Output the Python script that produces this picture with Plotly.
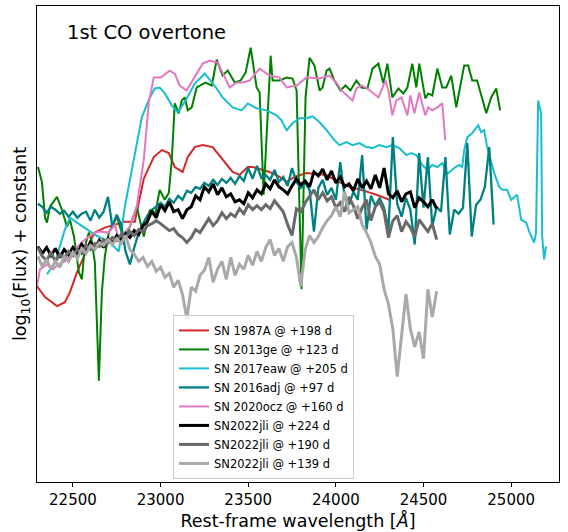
import plotly.graph_objects as go

# ---------------- data (wavelength in Angstrom, log10 flux + arbitrary offset) ----------------
red_wl = [22295, 22341, 22409, 22454, 22483, 22523, 22563, 22597, 22625, 22682, 22739, 22796, 22853,
          22904, 22961, 23007, 23047, 23081, 23126, 23155, 23195, 23240, 23297, 23354, 23411, 23451,
          23497, 23525, 23576, 23622, 23679, 23719, 23764, 23833, 23947, 23992, 24078, 24163, 24248, 24305]
red_fl = [1.97, 1.86, 1.77, 1.81, 1.91, 2.11, 2.27, 2.42, 2.51, 2.56, 2.59, 2.62, 2.62,
          3.05, 3.27, 3.34, 3.31, 3.17, 3.12, 3.27, 3.37, 3.39, 3.37, 3.24, 3.12, 3.09,
          3.17, 3.17, 3.14, 3.12, 3.07, 3.02, 3.07, 3.11, 3.09, 3.04, 2.97, 2.93, 2.88, 2.84]

green_wl = [22301, 22323, 22341, 22352, 22369, 22409, 22437, 22466, 22483, 22506, 22534, 22551, 22568,
            22591, 22608, 22625, 22648, 22665, 22682, 22705, 22751, 22790, 22825, 22864, 22904, 22939,
            22967, 22995, 23024, 23047, 23064, 23081, 23104, 23121, 23138, 23155, 23178, 23206, 23257,
            23292, 23320, 23354, 23383, 23423, 23457, 23485, 23514, 23548, 23565, 23588, 23628, 23639,
            23679, 23719, 23753, 23776, 23804, 23827, 23850, 23878, 23907, 23924, 23947, 23964, 23992,
            24026, 24055, 24083, 24117, 24146, 24180, 24209, 24243, 24271, 24294, 24322, 24357, 24385,
            24408, 24436, 24459, 24476, 24510, 24527, 24550, 24579, 24607, 24630, 24658, 24687, 24732,
            24755, 24778, 24806, 24858, 24886, 24915, 24937]
green_fl = [3.17, 3.02, 2.66, 2.61, 2.77, 2.87, 2.74, 2.57, 2.64, 2.47, 2.11, 2.04, 2.37,
            2.51, 2.42, 2.21, 1.02, 1.91, 2.27, 2.51, 2.67, 2.44, 2.57, 2.77, 2.47, 2.74,
            2.67, 2.94, 2.84, 2.91, 3.24, 3.81, 3.71, 3.84, 3.87, 3.74, 3.77, 3.97, 4.02,
            3.99, 4.25, 4.09, 4.14, 4.02, 4.04, 4.12, 4.37, 3.97, 3.92, 2.89, 4.29, 4.04,
            4.04, 4.07, 4.06, 3.94, 1.94, 3.87, 4.27, 4.19, 3.94, 3.97, 4.14, 4.16, 4.04,
            3.94, 3.99, 3.94, 4.04, 3.97, 3.96, 4.16, 4.21, 4.01, 4.21, 3.87, 3.96, 3.91,
            3.97, 4.21, 3.97, 4.21, 3.86, 3.91, 3.89, 4.16, 3.97, 3.97, 4.09, 3.77, 4.19,
            4.19, 4.04, 4.04, 3.71, 3.87, 3.96, 3.74]

cyan_wl = [22352, 22398, 22454, 22483, 22540, 22625, 22711, 22762, 22796, 22847, 22893, 22939, 22967,
           22995, 23024, 23064, 23098, 23121, 23149, 23195, 23252, 23280, 23320, 23354, 23411, 23462,
           23497, 23548, 23605, 23662, 23690, 23719, 23753, 23793, 23833, 23867, 23907, 23947, 23992,
           24021, 24060, 24095, 24134, 24174, 24209, 24248, 24288, 24322, 24362, 24402, 24431, 24459,
           24493, 24522, 24550, 24579, 24607, 24636, 24675, 24704, 24721, 24732, 24750, 24778, 24801,
           24812, 24829, 24846, 24863, 24886, 24903, 24932, 24949, 24977, 25000, 25034, 25057, 25086,
           25103, 25131, 25142, 25154, 25171, 25177, 25188, 25199]
cyan_fl = [2.09, 2.21, 2.54, 2.66, 2.59, 2.49, 2.41, 2.32, 2.77, 3.24, 3.67, 3.87, 3.96,
           3.97, 3.91, 3.79, 3.72, 3.78, 3.86, 4.01, 4.11, 4.05, 3.96, 3.87, 3.77, 3.74,
           3.81, 3.76, 3.74, 3.69, 3.64, 3.54, 3.61, 3.66, 3.66, 3.68, 3.62, 3.54, 3.44,
           3.39, 3.42, 3.39, 3.41, 3.37, 3.36, 3.39, 3.37, 3.39, 3.36, 3.29, 3.31, 3.29,
           3.19, 3.14, 3.19, 3.17, 3.21, 3.10, 3.16, 3.19, 3.17, 3.34, 3.47, 3.51, 3.57,
           3.59, 3.52, 3.54, 3.37, 3.21, 3.11, 2.97, 2.94, 2.94, 2.84, 2.89, 2.64, 2.61,
           2.52, 2.41, 2.51, 3.84, 3.71, 2.47, 2.24, 2.37]

teal_wl = list(range(22300, 24901, 25))
teal_fl = [2.80, 2.77, 2.71, 2.77, 2.74, 2.70, 2.73, 2.67, 2.72, 2.66, 2.70, 2.72, 2.63, 2.74, 2.66, 2.72,
           2.87, 2.57, 2.69, 2.59, 2.32, 2.19, 2.36, 2.51, 2.60, 2.68, 2.74, 2.77, 2.81, 2.77, 2.85, 2.81,
           2.88, 2.84, 2.93, 2.91, 2.97, 2.95, 3.01, 2.98, 3.04, 2.99, 3.05, 3.01, 3.06, 3.00, 3.08, 3.03,
           3.16, 3.05, 3.18, 3.06, 3.09, 3.04, 3.14, 3.02, 3.07, 2.98, 3.16, 3.02, 2.96, 3.01, 2.94, 2.52,
           2.96, 3.04, 2.89, 2.96, 2.84, 3.22, 2.86, 2.79, 2.92, 2.84, 3.29, 2.54, 2.88, 2.78, 2.86, 2.76,
           2.54, 3.47, 2.80, 2.67, 2.86, 2.74, 2.39, 3.31, 2.76, 3.27, 2.57, 2.77, 2.72, 3.27, 2.49, 2.74,
           2.70, 2.76, 3.41, 2.47, 2.79, 2.84, 2.97, 3.37, 2.59]

pink_wl = [22295, 22312, 22352, 22386, 22415, 22454, 22511, 22568, 22625, 22654, 22705, 22739, 22762,
           22825, 22864, 22904, 22933, 22961, 23001, 23052, 23081, 23109, 23149, 23206, 23240, 23280,
           23326, 23354, 23394, 23434, 23468, 23508, 23565, 23622, 23679, 23719, 23776, 23833, 23907,
           23964, 24003, 24032, 24066, 24095, 24117, 24146, 24180, 24209, 24243, 24283, 24300, 24322,
           24345, 24374, 24408, 24425, 24448, 24476, 24510, 24527, 24550, 24579, 24607, 24624]
pink_fl = [1.97, 2.14, 2.19, 2.14, 2.19, 2.22, 2.34, 2.44, 2.51, 2.52, 2.51, 2.59, 2.44,
           2.57, 2.77, 3.24, 3.82, 4.07, 4.07, 4.14, 4.11, 3.99, 3.94, 4.11, 4.21, 4.24,
           4.22, 4.12, 3.97, 4.02, 4.02, 4.04, 4.16, 4.09, 4.07, 3.97, 3.99, 4.07, 4.06,
           4.09, 4.02, 3.94, 3.89, 3.84, 3.96, 3.99, 3.96, 3.92, 3.87, 4.04, 3.94, 3.69,
           3.84, 3.87, 3.69, 3.89, 3.71, 3.92, 3.69, 3.77, 3.74, 3.77, 3.81, 3.44]

jli_wl = list(range(22300, 24576, 25))
jli224_fl = [2.37, 2.30, 2.36, 2.28, 2.35, 2.26, 2.34, 2.29, 2.36, 2.30,
             2.39, 2.33, 2.41, 2.35, 2.43, 2.36, 2.45, 2.40, 2.48, 2.43,
             2.50, 2.46, 2.53, 2.49, 2.58, 2.62, 2.73, 2.66, 2.79, 2.73,
             2.82, 2.72, 2.74, 2.65, 2.74, 2.77, 2.88, 2.84, 2.97, 2.92,
             3.00, 2.89, 2.96, 2.87, 2.90, 2.82, 2.84, 2.80, 2.91, 2.86,
             2.94, 2.90, 3.00, 2.95, 3.04, 2.97, 2.94, 2.90, 2.98, 3.05,
             2.99, 3.03, 2.97, 3.12, 3.08, 3.15, 3.04, 3.13, 3.01, 3.07,
             2.97, 3.00, 2.93, 3.05, 2.96, 3.03, 2.95, 3.09, 2.96, 3.16,
             2.90, 2.86, 2.93, 2.82, 2.90, 2.92, 2.76, 2.86, 2.82, 2.77,
             2.84, 2.75]
jli190_fl = [2.36, 2.27, 2.23, 2.31, 2.22, 2.29, 2.25, 2.32, 2.28, 2.34,
             2.30, 2.38, 2.34, 2.40, 2.37, 2.44, 2.41, 2.46, 2.43, 2.49,
             2.46, 2.52, 2.48, 2.54, 2.52, 2.58, 2.60, 2.63, 2.60, 2.56,
             2.53, 2.55, 2.49, 2.46, 2.41, 2.46, 2.54, 2.51, 2.58, 2.65,
             2.58, 2.63, 2.71, 2.65, 2.70, 2.67, 2.75, 2.70, 2.79, 2.74,
             2.78, 2.74, 2.79, 2.75, 2.83, 2.78, 2.72, 2.59, 2.48, 2.75,
             2.72, 2.81, 2.88, 2.94, 2.84, 2.91, 2.83, 2.87, 2.76, 2.81,
             2.72, 2.87, 2.78, 2.65, 2.76, 2.84, 2.63, 2.77, 2.82, 2.72,
             2.46, 2.63, 2.68, 2.52, 2.62, 2.56, 2.47, 2.64, 2.58, 2.52,
             2.60, 2.44]
jli139_fl = [2.27, 2.17, 2.24, 2.14, 2.22, 2.16, 2.27, 2.22, 2.31, 2.25,
             2.35, 2.30, 2.38, 2.34, 2.41, 2.38, 2.44, 2.39, 2.45, 2.40,
             2.48, 2.34, 2.29, 2.22, 2.26, 2.17, 2.22, 2.12, 2.16, 2.06,
             2.10, 1.96, 2.03, 1.89, 1.64, 1.96, 1.92, 2.08, 2.13, 2.26,
             2.01, 2.14, 2.22, 2.04, 2.26, 2.08, 2.19, 2.14, 2.28, 2.18,
             2.32, 2.22, 2.36, 2.44, 2.28, 2.35, 2.22, 2.37, 2.41, 2.26,
             1.97, 2.34, 2.48, 2.41, 2.47, 2.56, 2.63, 2.68, 2.77, 2.67,
             2.92, 2.71, 2.74, 2.77, 2.59, 2.51, 2.41, 2.27, 2.19, 1.94,
             1.79, 1.54, 1.06, 1.49, 1.89, 1.54, 1.36, 1.51, 1.24, 1.94,
             1.66, 1.92]

xticks = [22500, 23000, 23500, 24000, 24500, 25000]
xtick_labels = ["22500", "23000", "23500", "24000", "24500", "25000"]

series = [
    ("SN 1987A @ +198 d", red_wl, red_fl, "#d62728", 2),
    ("SN 2013ge @ +123 d", green_wl, green_fl, "#008000", 2),
    ("SN 2017eaw @ +205 d", cyan_wl, cyan_fl, "#17becf", 2),
    ("SN 2016adj @ +97 d", teal_wl, teal_fl, "#008080", 2.3),
    ("SN 2020ocz @ +160 d", pink_wl, pink_fl, "#e377c2", 2),
    ("SN2022jli @ +224 d", jli_wl, jli224_fl, "#000000", 3),
    ("SN2022jli @ +190 d", jli_wl, jli190_fl, "#696969", 3),
    ("SN2022jli @ +139 d", jli_wl, jli139_fl, "#a9a9a9", 3),
]

FONT = "DejaVu Sans"
fig = go.Figure()
for name, wl, fl, col, lw in series:
    fig.add_trace(go.Scatter(x=wl, y=fl, mode="lines", name=name,
                             line=dict(color=col, width=lw)))

fig.update_layout(
    width=568, height=532,
    margin=dict(l=37, r=9, t=5, b=48),
    plot_bgcolor="white", paper_bgcolor="white",
    font=dict(family=FONT, color="black"),
    showlegend=True,
    legend=dict(x=0.2605, y=0.351, xanchor="left", yanchor="top",
                bgcolor="rgba(255,255,255,0.8)", bordercolor="#cccccc", borderwidth=1,
                font=dict(size=11.5, family=FONT), tracegroupgap=0),
    annotations=[dict(text="1st CO overtone", xref="paper", yref="paper", x=0.054, y=0.944,
                      xanchor="left", yanchor="middle", showarrow=False,
                      font=dict(size=19.5, family=FONT))],
)
fig.update_xaxes(range=[22295, 25273], tickvals=xticks, ticktext=xtick_labels, ticks="outside", ticklen=4,
                 tickcolor="black", showline=True, mirror=True, linecolor="black", linewidth=1,
                 showgrid=False, zeroline=False, tickfont=dict(size=15),
                 title=dict(text="Rest-frame wavelength [<i>Å</i>]", font=dict(size=17.5), standoff=6))
fig.update_yaxes(range=[0, 4.79], showticklabels=False, ticks="", showline=True, mirror=True,
                 linecolor="black", linewidth=1, showgrid=False, zeroline=False,
                 title=dict(text="log<sub>10</sub>(Flux) + constant", font=dict(size=17.5), standoff=4))

fig.write_html("out.html")
